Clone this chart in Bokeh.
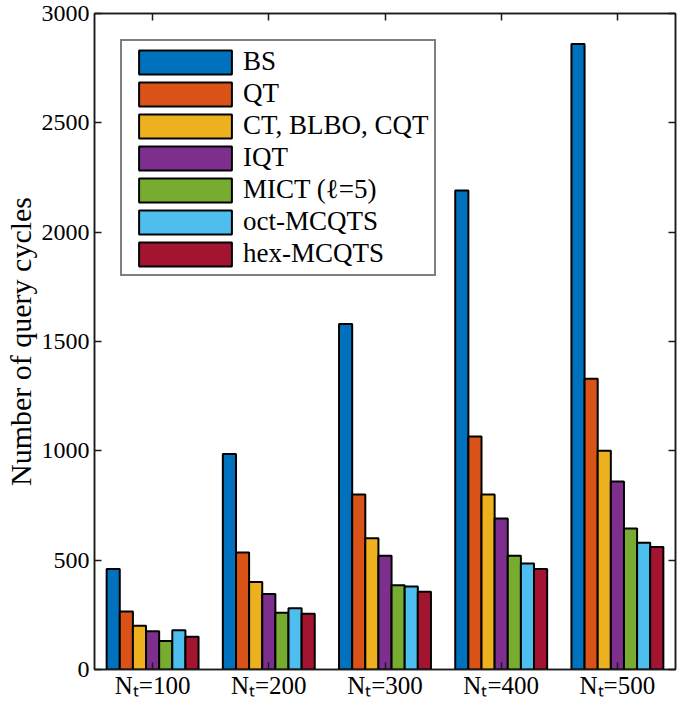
from bokeh.plotting import figure
from bokeh.models import (ColumnDataSource, FactorRange, Range1d, LinearAxis,
                          CategoricalAxis, FixedTicker, CustomJSTickFormatter)
from bokeh.transform import dodge
from bokeh.embed import file_html
from bokeh.resources import INLINE

# ---- data ----
nt_values = [100, 200, 300, 400, 500]
series_names = ["BS", "QT", "CT, BLBO, CQT", "IQT", "MICT (\u2113=5)", "oct-MCQTS", "hex-MCQTS"]
bs = [460, 985, 1580, 2190, 2860]
qt = [265, 535, 800, 1065, 1330]
ct = [200, 400, 600, 800, 1000]
iqt = [175, 345, 520, 690, 860]
mict = [130, 260, 385, 520, 645]
oct_mcqts = [180, 280, 380, 485, 580]
hex_mcqts = [150, 255, 355, 460, 560]
y_ticks = [0, 500, 1000, 1500, 2000, 2500, 3000]

series_values = [bs, qt, ct, iqt, mict, oct_mcqts, hex_mcqts]
colors = ["#0072BD", "#D95319", "#EDB120", "#7E2F8E", "#77AC30", "#4DBEEE", "#A2142F"]

# category labels  N_t=100 ...
groups = ["N\u209c=%d" % n for n in nt_values]
data = {"group": groups}
keys = []
for i, vals in enumerate(series_values):
    k = "s%d" % i
    keys.append(k)
    data[k] = vals
src = ColumnDataSource(data)

FONT = "Liberation Serif"
AX = "#1a1a1a"

p = figure(x_range=FactorRange(factors=groups, range_padding=0),
           y_range=Range1d(0, 3000),
           width=677, height=701, output_backend="svg", toolbar_location=None,
           min_border_left=93, min_border_right=2, min_border_top=13, min_border_bottom=31)
p.background_fill_color = "white"
p.xgrid.grid_line_color = None
p.ygrid.grid_line_color = None
p.outline_line_color = AX
p.outline_line_width = 1.5

nb = len(series_values)
bw = 0.113
for i, k in enumerate(keys):
    off = (i - (nb - 1) / 2) * bw
    p.vbar(x=dodge("group", off, range=p.x_range), top=k, width=bw, source=src,
           fill_color=colors[i], line_color="black", line_width=2,
           legend_label=series_names[i])

# left axis
ya = p.yaxis[0]
ya.ticker = FixedTicker(ticks=y_ticks)
ya.major_tick_in = 7
ya.major_tick_out = 0
ya.minor_tick_line_color = None
ya.axis_line_color = AX
ya.axis_line_width = 1.5
ya.major_tick_line_color = AX
ya.major_tick_line_width = 1.5
ya.major_label_text_font = FONT
ya.major_label_text_font_size = "24px"
ya.major_label_text_color = "black"
ya.major_label_standoff = 5
ya.axis_label = "Number of query cycles"
ya.axis_label_text_font = FONT
ya.axis_label_text_font_size = "30px"
ya.axis_label_text_font_style = "normal"
ya.axis_label_text_color = "black"
ya.axis_label_standoff = 2

# bottom axis with category labels
xa = p.xaxis[0]
xa.major_tick_in = 7
xa.major_tick_out = 0
xa.axis_line_color = AX
xa.axis_line_width = 1.5
xa.major_tick_line_color = AX
xa.major_tick_line_width = 1.5
xa.major_label_text_font = FONT
xa.major_label_text_font_size = "25px"
xa.major_label_text_color = "black"
xa.major_label_standoff = 2

# mirrored axes (ticks only)
ra = LinearAxis(ticker=FixedTicker(ticks=y_ticks), major_tick_in=7, major_tick_out=0,
                minor_tick_line_color=None, axis_line_color=AX, axis_line_width=1.5,
                major_tick_line_color=AX, major_tick_line_width=1.5,
                formatter=CustomJSTickFormatter(code="return ''"), major_label_standoff=0)
p.add_layout(ra, "right")
ta = CategoricalAxis(major_tick_in=7, major_tick_out=0, axis_line_color=AX, axis_line_width=1.5,
                     major_tick_line_color=AX, major_tick_line_width=1.5,
                     formatter=CustomJSTickFormatter(code="return ''"), major_label_standoff=0)
p.add_layout(ta, "above")

lg = p.legend[0]
lg.location = "top_left"
lg.margin = 26
lg.padding = 5
lg.spacing = 1
lg.glyph_width = 116
lg.glyph_height = 30
lg.label_standoff = 0
lg.label_text_font = FONT
lg.label_text_font_size = "27px"
lg.label_text_color = "black"
lg.border_line_color = "black"
lg.border_line_width = 2
lg.background_fill_alpha = 1

open("out.html", "w").write(file_html(p, INLINE))
